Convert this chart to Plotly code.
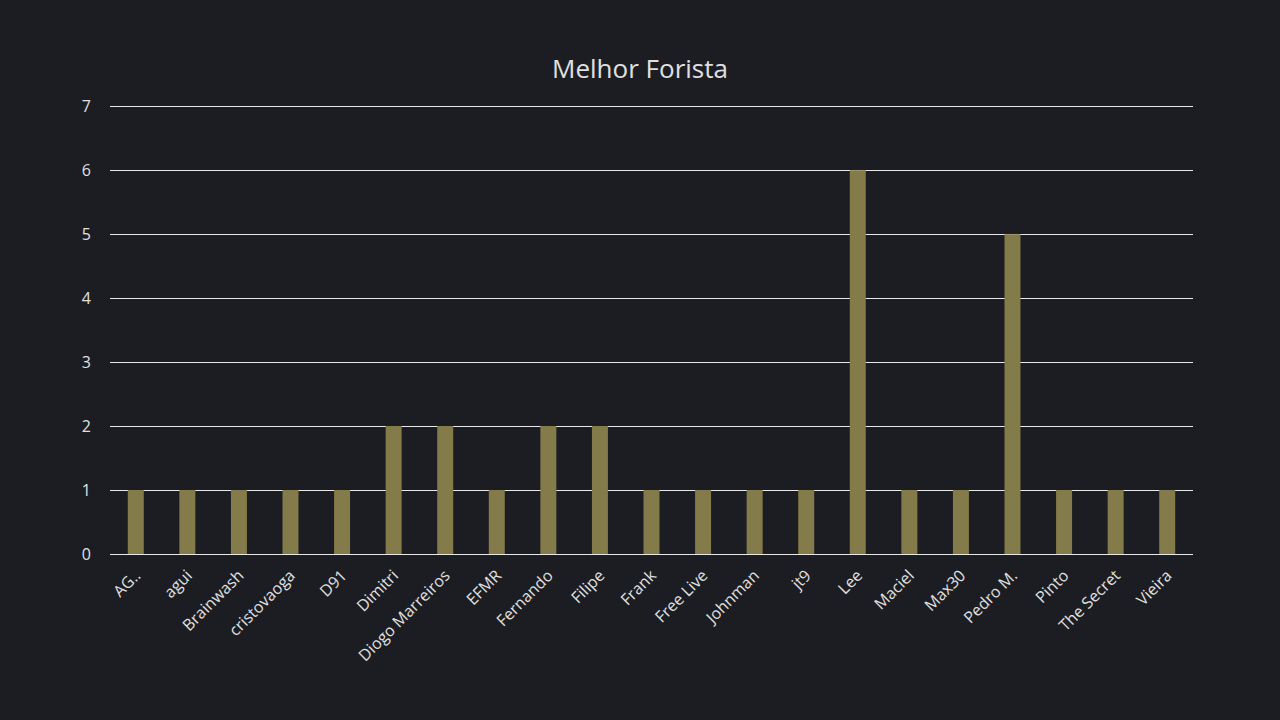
import plotly.graph_objects as go

foristas = ["AG..", "agui", "Brainwash", "cristovaoga", "D91", "Dimitri",
            "Diogo Marreiros", "EFMR", "Fernando", "Filipe", "Frank", "Free Live",
            "Johnman", "jt9", "Lee", "Maciel", "Max30", "Pedro M.", "Pinto",
            "The Secret", "Vieira"]
votos = [1, 1, 1, 1, 1, 2, 2, 1, 2, 2, 1, 1, 1, 1, 6, 1, 1, 5, 1, 1, 1]

fig = go.Figure()
fig.add_trace(go.Bar(
    x=foristas,
    y=votos,
    marker=dict(color="#847b4a", line=dict(width=0)),
    hoverinfo="x+y",
))

fig.update_layout(
    width=1280,
    height=720,
    paper_bgcolor="#1c1d22",
    plot_bgcolor="#1c1d22",
    font=dict(family="Open Sans, sans-serif", color="#e0e0e0", size=14),
    title=dict(text="Melhor Forista", x=0.5, xanchor="center", y=0.905,
               yanchor="middle", font=dict(size=26, color="#e0e0e0")),
    margin=dict(l=110, r=87, t=105, b=166),
    bargap=0.69,
    showlegend=False,
    xaxis=dict(tickangle=-45, showgrid=False, showline=False, ticks="",
               ticklabelstandoff=8, tickfont=dict(size=16, color="#e0e0e0")),
    yaxis=dict(range=[0, 7.02], dtick=1, showgrid=True, gridcolor="#e8e8e8",
               gridwidth=1, zeroline=True, zerolinecolor="#e8e8e8",
               zerolinewidth=1, ticks="", ticklabelstandoff=18,
               tickfont=dict(size=16, color="#e0e0e0")),
)

fig.write_html("out.html", config={"displayModeBar": False},
               post_script="document.body.style.margin='0';document.body.style.background='#1c1d22';")
